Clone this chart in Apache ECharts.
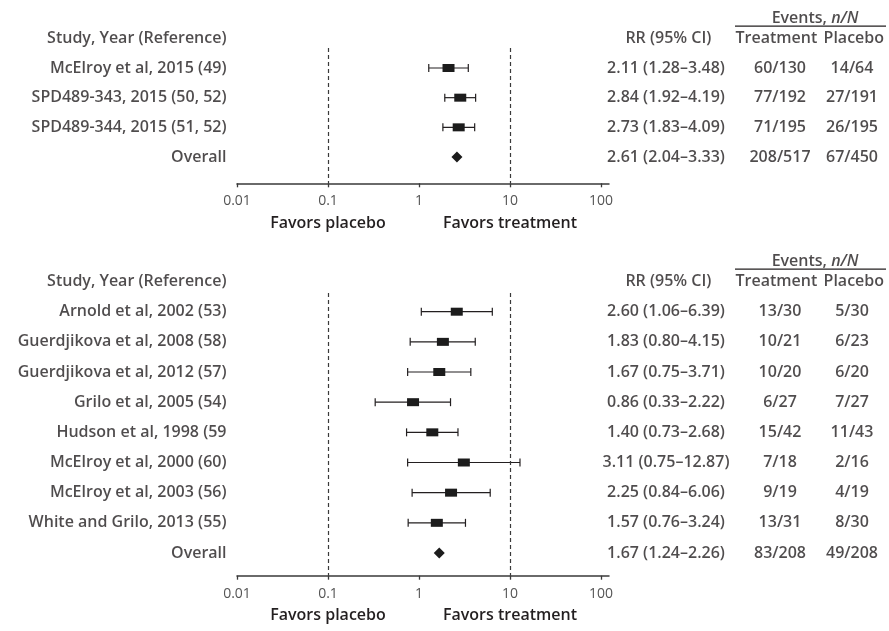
<!DOCTYPE html>
<html><head><meta charset="utf-8">
<script src="https://cdn.jsdelivr.net/npm/echarts@6/dist/echarts.min.js"></script>
<style>html,body{margin:0;padding:0;background:#fff}#c{width:889px;height:631px}</style>
</head><body><div id="c"></div>
<script>
// ---------- data ----------
const tickValues = [0.01, 0.1, 1, 10, 100];
const tickLabels = ['0.01', '0.1', '1', '10', '100'];
const refLines = [0.1, 10];
const favorsLabels = ['Favors placebo', 'Favors treatment'];
const headers = ['Study, Year (Reference)', 'RR (95% CI)', 'Treatment', 'Placebo'];
const eventsHeader = 'Events, {i|n/N}';

const topStudies = ['McElroy et al, 2015 (49)', 'SPD489-343, 2015 (50, 52)', 'SPD489-344, 2015 (51, 52)', 'Overall'];
const topRR = [2.11, 2.84, 2.73, 2.61];
const topLo = [1.28, 1.92, 1.83, 2.04];
const topHi = [3.48, 4.19, 4.09, 3.33];
const topTreat = ['60/130', '77/192', '71/195', '208/517'];
const topPlac = ['14/64', '27/191', '26/195', '67/450'];

const botStudies = ['Arnold et al, 2002 (53)', 'Guerdjikova et al, 2008 (58)', 'Guerdjikova et al, 2012 (57)', 'Grilo et al, 2005 (54)', 'Hudson et al, 1998 (59', 'McElroy et al, 2000 (60)', 'McElroy et al, 2003 (56)', 'White and Grilo, 2013 (55)', 'Overall'];
const botRR = [2.60, 1.83, 1.67, 0.86, 1.40, 3.11, 2.25, 1.57, 1.67];
const botLo = [1.06, 0.80, 0.75, 0.33, 0.73, 0.75, 0.84, 0.76, 1.24];
const botHi = [6.39, 4.15, 3.71, 2.22, 2.68, 12.87, 6.06, 3.24, 2.26];
const botTreat = ['13/30', '10/21', '10/20', '6/27', '15/42', '7/18', '9/19', '13/31', '83/208'];
const botPlac = ['5/30', '6/23', '6/20', '7/27', '11/43', '2/16', '4/19', '8/30', '49/208'];

// ---------- style / layout ----------
const FONT = '"Open Sans", "Noto Sans", sans-serif';
const INK = '#231f20';
const TXT = {fontFamily: FONT, fontSize: 16, fontWeight: 600, color: INK};

const panels = [
  {studies: topStudies, rr: topRR, lo: topLo, hi: topHi, treat: topTreat, plac: topPlac,
   top: 48, height: 135.3, yMin: -0.674, yMax: 3.886},
  {studies: botStudies, rr: botRR, lo: botLo, hi: botHi, treat: botTreat, plac: botPlac,
   top: 293, height: 282.7, yMin: -0.62, yMax: 8.753}
];

function fmt(v) { return v.toFixed(2); }
function tickIndex(v) {
  return tickValues.findIndex(t => Math.abs(Math.log10(t) - Math.log10(v)) < 1e-6);
}

const grid = [], xAxis = [], yAxis = [], series = [];

panels.forEach((p, k) => {
  const base = grid.length;
  const cols = [
    {left: 237, width: 372},   // main
    {left: 0, width: 227},     // names
    {left: 606, width: 120},   // RR
    {left: 750, width: 60},    // treatment
    {left: 822, width: 60},    // placebo
    {left: 735, width: 151}    // events header
  ];
  cols.forEach((c, j) => {
    grid.push({left: c.left, width: c.width, top: p.top, height: p.height, containLabel: false});
    yAxis.push({type: 'value', gridIndex: base + j, inverse: true, min: p.yMin, max: p.yMax, show: false});
    if (j === 0) {
      xAxis.push({
        type: 'log', logBase: 10, gridIndex: base, min: 0.01, max: 122.4, position: 'bottom',
        axisLine: {show: true, onZero: false, lineStyle: {color: '#3a3a3a', width: 1.5}},
        axisTick: {show: true, length: 4, customValues: tickValues, lineStyle: {color: '#3a3a3a', width: 1.3}},
        splitLine: {show: false},
        axisLabel: {
          customValues: tickValues, margin: 8, color: '#555', fontFamily: FONT, fontSize: 14,
          formatter: function (v) {
            const i = tickIndex(v);
            if (i < 0) return '';
            const r = refLines.findIndex(t => Math.abs(Math.log10(t) - Math.log10(v)) < 1e-6);
            let s = '{t|' + tickLabels[i] + '}';
            if (r >= 0) s += '\n{f|' + favorsLabels[r] + '}';
            return s;
          },
          rich: {
            t: {fontFamily: FONT, fontSize: 14, color: '#555', lineHeight: 20},
            f: {fontFamily: FONT, fontSize: 16, fontWeight: 600, color: INK, lineHeight: 24}
          }
        }
      });
    } else {
      xAxis.push({type: 'value', gridIndex: base + j, min: 0, max: 1, show: false});
    }
  });

  const n = p.studies.length;
  const last = n - 1;
  const bars = [], boxes = [], diamond = [];
  for (let i = 0; i < n; i++) {
    if (i === last) diamond.push([p.rr[i], i]);
    else { bars.push([p.lo[i], i, p.hi[i]]); boxes.push([p.rr[i], i]); }
  }

  series.push({
    type: 'custom', xAxisIndex: base, yAxisIndex: base, data: bars, z: 3,
    encode: {x: [0, 2], y: 1},
    renderItem: function (params, api) {
      const a = api.coord([api.value(0), api.value(1)]);
      const b = api.coord([api.value(2), api.value(1)]);
      const h = 4;
      const st = {stroke: INK, lineWidth: 1.2};
      return {type: 'group', children: [
        {type: 'line', shape: {x1: a[0], y1: a[1], x2: b[0], y2: b[1]}, style: st},
        {type: 'line', shape: {x1: a[0], y1: a[1] - h, x2: a[0], y2: a[1] + h}, style: st},
        {type: 'line', shape: {x1: b[0], y1: b[1] - h, x2: b[0], y2: b[1] + h}, style: st}
      ]};
    }
  });
  series.push({
    type: 'scatter', xAxisIndex: base, yAxisIndex: base, data: boxes, z: 4,
    symbol: 'rect', symbolSize: [12, 8], itemStyle: {color: '#1c1c1c', opacity: 1},
    markLine: {
      silent: true, symbol: ['none', 'none'], label: {show: false},
      lineStyle: {type: [4, 3], color: '#3a3a3a', width: 1.2},
      data: refLines.map(v => ({xAxis: v}))
    }
  });
  series.push({
    type: 'scatter', xAxisIndex: base, yAxisIndex: base, data: diamond, z: 4,
    symbol: 'diamond', symbolSize: [11, 11], itemStyle: {color: '#1c1c1c', opacity: 1}
  });

  function textCol(j, x, hx, header, rows, pos) {
    series.push({
      type: 'scatter', xAxisIndex: base + j, yAxisIndex: base + j, clip: false,
      symbolSize: 1, itemStyle: {color: 'rgba(0,0,0,0)'},
      data: [[hx, -1, header]].concat(rows.map((s, i) => [x, i, s])),
      label: Object.assign({show: true, position: pos, distance: 0, formatter: q => q.value[2]}, TXT),
      emphasis: {disabled: true}
    });
  }
  textCol(1, 1, 1, headers[0], p.studies, 'left');
  textCol(2, 0.5, 0.52, headers[1], p.rr.map((v, i) => fmt(v) + ' (' + fmt(p.lo[i]) + '\u2013' + fmt(p.hi[i]) + ')'), 'inside');
  textCol(3, 0.5, 0.44, headers[2], p.treat, 'inside');
  textCol(4, 0.5, 0.53, headers[3], p.plac, 'inside');

  // events header with underline
  series.push({
    type: 'scatter', xAxisIndex: base + 5, yAxisIndex: base + 5, clip: false,
    symbolSize: 1, itemStyle: {color: 'rgba(0,0,0,0)'},
    data: [[0.53, -1.68]],
    label: Object.assign({show: true, position: 'inside', formatter: eventsHeader,
      rich: {i: {fontFamily: FONT, fontSize: 16, fontWeight: 600, fontStyle: 'italic', color: INK}}}, TXT)
  });
  series.push({
    type: 'line', xAxisIndex: base + 5, yAxisIndex: base + 5, clip: false, symbol: 'none',
    lineStyle: {color: INK, width: 1.2}, data: [[0, -1.41], [1, -1.41]]
  });
});

const chart = echarts.init(document.getElementById('c'), null, {renderer: 'canvas'});
chart.setOption({animation: false, backgroundColor: '#fff', grid, xAxis, yAxis, series});
</script>
</body></html>
